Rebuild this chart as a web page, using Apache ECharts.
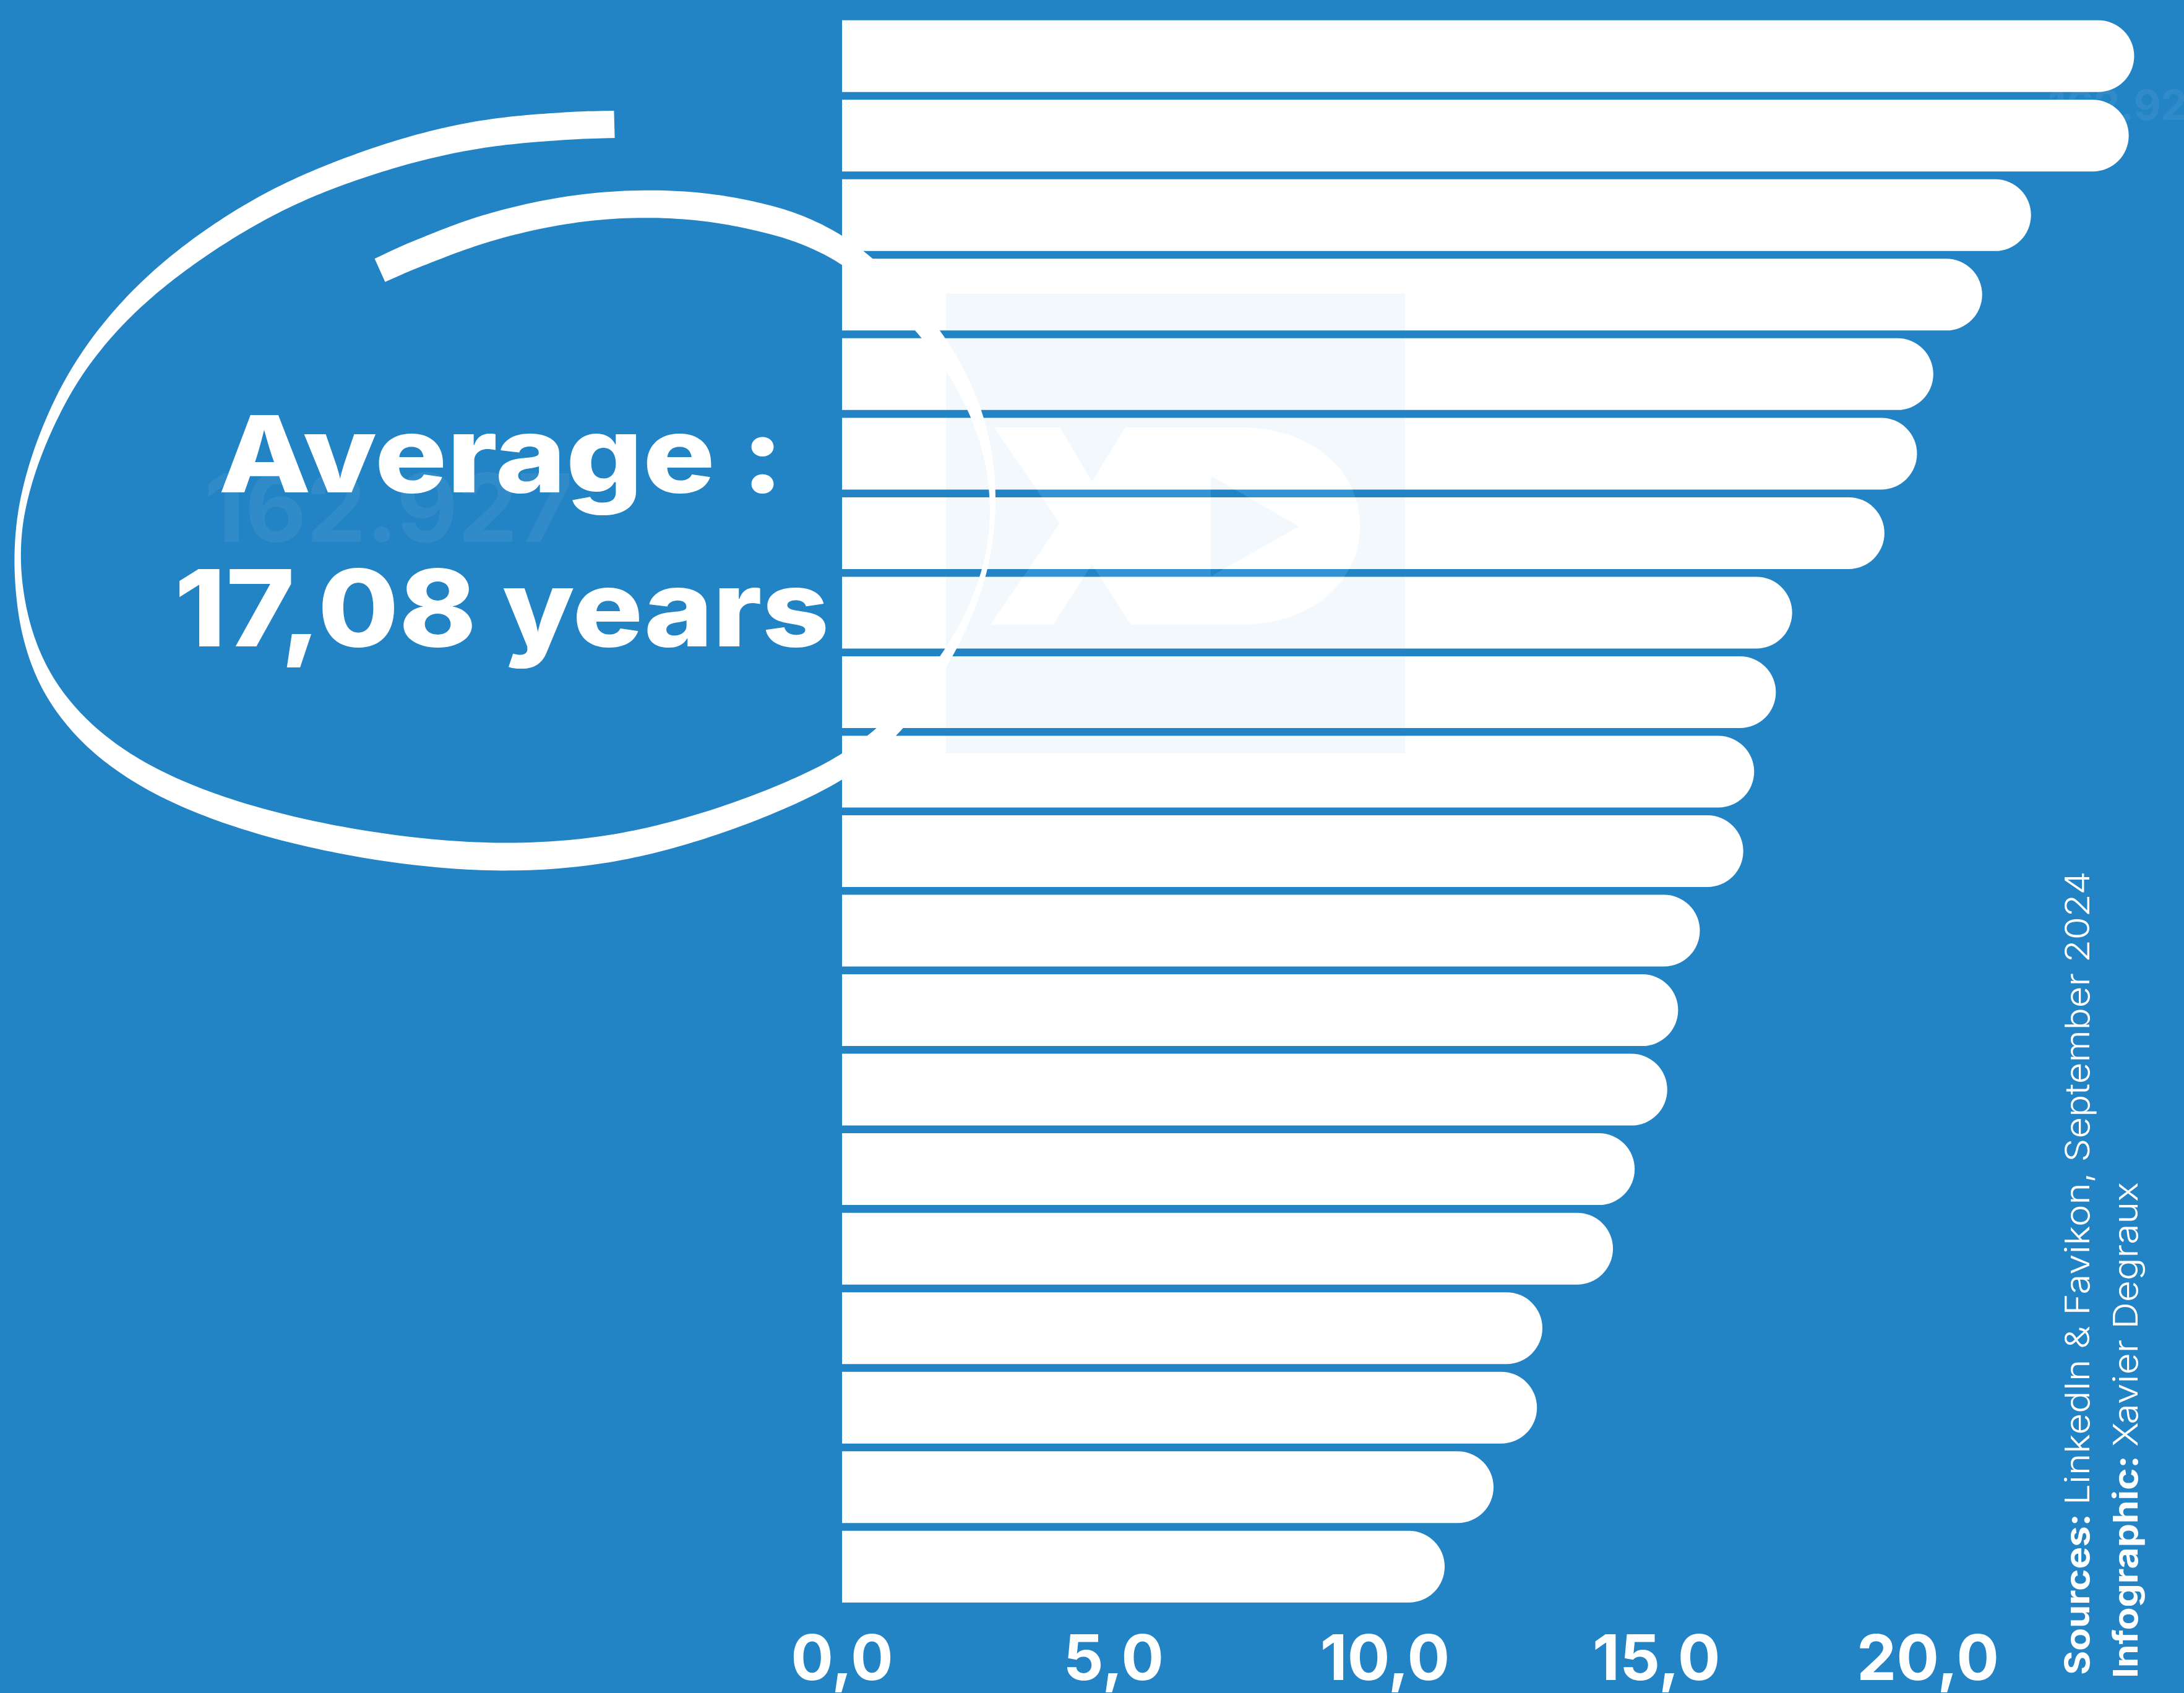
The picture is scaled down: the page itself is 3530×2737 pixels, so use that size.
<!DOCTYPE html>
<html><head><meta charset="utf-8">
<script src="https://cdn.jsdelivr.net/npm/echarts@6/dist/echarts.min.js"></script>
<style>html,body{margin:0;padding:0;background:#2283c5;}#c{width:3530px;height:2737px;}</style>
</head><body><div id="c"></div>
<script>
// ---- data ----
const categories = ['1','2','3','4','5','6','7','8','9','10','11','12','13','14','15','16','17','18','19','20'];
const tenureYears = [23.8, 23.7, 21.9, 21.0, 20.1, 19.8, 19.2, 17.5, 17.2, 16.8, 16.6, 15.8, 15.4, 15.2, 14.6, 14.2, 12.9, 12.8, 12.0, 11.1];
const xTickValues = [0, 5, 10, 15, 20];
const averageLines = ['Average :', '17,08 years'];
const ghostNumber = '162.927';
const sourceLine = 'LinkedIn & Favikon, September 2024';
const creditLine = 'Xavier Degraux';

// ---- decoration geometry (hand-drawn ellipse centre line: x, y, width) ----
const strokePts = [[993,201,44],[861,206,45],[717,226,44],[574,270,40],[450,320,38],[335,390,36],[235,467,30],[150,560,22],[95,650,18],[57,740,14],[35,820,11],[27,898,9],[35,990,14],[62,1080,22],[115,1162,30],[205,1240,36],[335,1302,40],[500,1350,43],[700,1382,45],[880,1386,45],[1040,1364,43],[1190,1318,40],[1330,1260,38],[1440,1184,32],[1537,1055,15],[1595,925,7],[1607,797,8],[1583,670,20],[1510,540,32],[1415,445,36],[1358,402,40],[1291,368,44],[1196,343,46],[1048,325,44],[861,346,44],[717,392,44],[614,437,41]];

function brush(pts, steps, k){
  let c=[];
  for(let i=0;i<pts.length-1;i++){
    const p0=pts[Math.max(i-1,0)],p1=pts[i],p2=pts[i+1],p3=pts[Math.min(i+2,pts.length-1)];
    for(let s=0;s<steps;s++){
      const t=s/steps,t2=t*t,t3=t2*t;
      const f=(a,b,cc,d)=>0.5*((2*b)+(-a+cc)*t+(2*a-5*b+4*cc-d)*t2+(-a+3*b-3*cc+d)*t3);
      c.push([f(p0[0],p1[0],p2[0],p3[0]), f(p0[1],p1[1],p2[1],p3[1]), p1[2]+(p2[2]-p1[2])*t]);
    }
  }
  c.push(pts[pts.length-1].slice());
  const sm=c.map(p=>p.slice());
  for(let i=0;i<c.length;i++){
    const w=Math.min(k,i,c.length-1-i); let sx=0,sy=0,sw=0,n=0;
    for(let j=i-w;j<=i+w;j++){sx+=c[j][0];sy+=c[j][1];sw+=c[j][2];n++;}
    sm[i]=[sx/n,sy/n,sw/n];
  }
  c=sm;
  const L=[],R=[];
  for(let i=0;i<c.length;i++){
    const a=c[Math.max(i-1,0)], b=c[Math.min(i+1,c.length-1)];
    let dx=b[0]-a[0], dy=b[1]-a[1]; const len=Math.hypot(dx,dy)||1; dx/=len; dy/=len;
    const h=c[i][2]/2;
    L.push([c[i][0]-dy*h, c[i][1]+dx*h]);
    R.push([c[i][0]+dy*h, c[i][1]-dx*h]);
  }
  return L.concat(R.reverse());
}

function cubic(p0,p1,p2,p3,n){
  const out=[];
  for(let i=1;i<=n;i++){const t=i/n,u=1-t;
    out.push([u*u*u*p0[0]+3*u*u*t*p1[0]+3*u*t*t*p2[0]+t*t*t*p3[0], u*u*u*p0[1]+3*u*u*t*p1[1]+3*u*t*t*p2[1]+t*t*t*p3[1]]);}
  return out;
}
function logoPoints(){
  let p=[[1607,691],[1713,691],[1765,779],[1819,691],[2003,691]];
  p=p.concat(cubic([2003,691],[2120,691],[2198,760],[2198,851],20));
  p=p.concat(cubic([2198,851],[2198,940],[2120,1010],[2003,1010],20));
  p=p.concat([[1828,1010],[1765,912],[1702,1010],[1601,1010],[1713,846],
              [1957,769],[1957,932],[2100,851],[1957,769],[1713,846]]);
  return p;
}

const BG = '#2283c5';
const FONT = 'Inter, "Noto Sans", sans-serif';

const chart = echarts.init(document.getElementById('c'), null, {renderer:'canvas'});
chart.setOption({
  animation: false,
  backgroundColor: BG,
  grid: {left: 1361, top: 26.5, bottom: 140, right: 63, containLabel: false},
  xAxis: {
    type: 'value', min: 0, max: 24, interval: 5,
    axisLine: {show: false}, axisTick: {show: false}, splitLine: {show: false},
    axisLabel: {
      show: true, showMaxLabel: false, margin: 37,
      color: '#ffffff', fontFamily: FONT, fontWeight: 'bold', fontSize: 102,
      formatter: v => xTickValues.indexOf(v) >= 0 ? v.toFixed(1).replace('.', ',') : ''
    }
  },
  yAxis: {
    type: 'category', data: categories, inverse: true,
    axisLine: {show: false}, axisTick: {show: false}, axisLabel: {show: false}, splitLine: {show: false}
  },
  series: [{
    type: 'bar', data: tenureYears, barWidth: 116, z: 2,
    itemStyle: {color: '#ffffff', borderRadius: [0, 58, 58, 0]}
  }],
  graphic: [
    {type: 'text', z: 0, x: 3575, y: 174,
     style: {text: ghostNumber, fill: 'rgba(255,255,255,0.07)', font: 'bold 68px ' + FONT, align: 'right', verticalAlign: 'middle'}},
    {type: 'text', z: 5, x: 330, y: 830,
     style: {text: ghostNumber, fill: 'rgba(255,255,255,0.07)', font: 'bold 153px ' + FONT, align: 'left', verticalAlign: 'middle'}},
    {type: 'rect', z: 6, shape: {x: 1529, y: 475, width: 742, height: 743},
     style: {fill: 'rgba(35,131,196,0.06)'}},
    {type: 'polygon', z: 7, shape: {points: logoPoints()},
     style: {fill: 'rgba(255,255,255,0.06)', blend: 'lighter'}},
    {type: 'polygon', z: 8, shape: {points: brush(strokePts, 16, 12)}, style: {fill: '#ffffff'}},
    {type: 'text', z: 9, x: 810, y: 744, scaleX: 1.13,
     style: {text: averageLines[0], fill: '#ffffff', font: '800 172px ' + FONT, align: 'center', verticalAlign: 'middle'}},
    {type: 'text', z: 9, x: 811, y: 993, scaleX: 1.1,
     style: {text: averageLines[1], fill: '#ffffff', font: '800 172px ' + FONT, align: 'center', verticalAlign: 'middle'}},
    {type: 'text', z: 9, x: 3360, y: 2708, rotation: Math.PI / 2, scaleX: 1.09,
     style: {text: '{b|Sources: }{l|' + sourceLine + '}', align: 'left', verticalAlign: 'middle',
       rich: {b: {fill: '#ffffff', fontFamily: FONT, fontWeight: 'bold', fontSize: 55},
              l: {fill: '#ffffff', fontFamily: FONT, fontWeight: 300, fontSize: 55}}}},
    {type: 'text', z: 9, x: 3438, y: 2713, rotation: Math.PI / 2, scaleX: 1.1,
     style: {text: '{b|Infographic: }{l|' + creditLine + '}', align: 'left', verticalAlign: 'middle',
       rich: {b: {fill: '#ffffff', fontFamily: FONT, fontWeight: 'bold', fontSize: 55},
              l: {fill: '#ffffff', fontFamily: FONT, fontWeight: 300, fontSize: 55}}}}
  ]
});
</script>
</body></html>
